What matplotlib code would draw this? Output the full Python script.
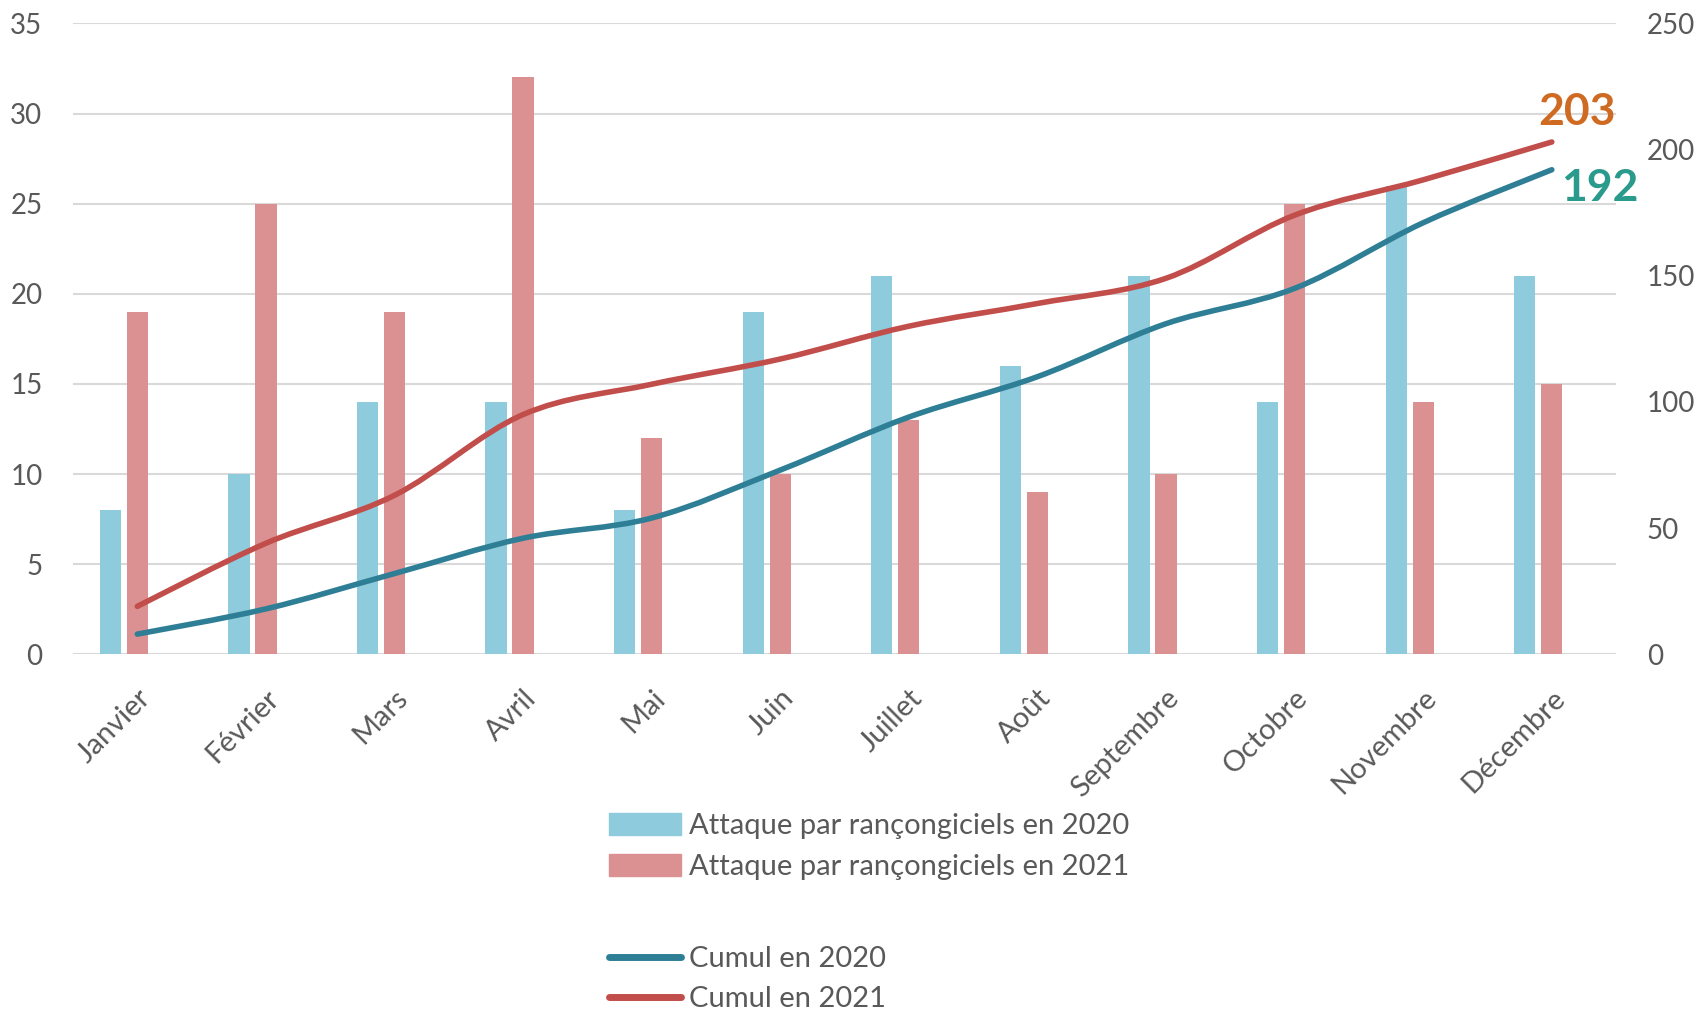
import matplotlib
matplotlib.use("Agg")
import matplotlib.pyplot as plt
from matplotlib.path import Path
from matplotlib.patches import PathPatch, Patch
from matplotlib.lines import Line2D
import numpy as np

mois = ['Janvier', 'Février', 'Mars', 'Avril', 'Mai', 'Juin', 'Juillet',
        'Août', 'Septembre', 'Octobre', 'Novembre', 'Décembre']
attaques_2020 = [8, 10, 14, 14, 8, 19, 21, 16, 21, 14, 26, 21]
attaques_2021 = [19, 25, 19, 32, 12, 10, 13, 9, 10, 25, 14, 15]
cumul_2020 = [8, 18, 32, 46, 54, 73, 94, 110, 131, 145, 171, 192]
cumul_2021 = [19, 44, 63, 95, 107, 117, 130, 139, 149, 174, 188, 203]

bleu_barre = '#8ecbdd'
rouge_barre = '#db9191'
bleu_ligne = '#2e7f96'
rouge_ligne = '#c24e4b'
gris = '#595959'

plt.rcParams['font.family'] = ['Lato', 'DejaVu Sans']


def courbe_lisse(xs, ys):
    # courbe de Bezier passant par les points (comme le lissage d'Excel)
    pts = np.column_stack([xs, ys]).astype(float)
    n = len(pts)
    verts = [pts[0]]
    codes = [Path.MOVETO]
    for i in range(n - 1):
        p0 = pts[i - 1] if i > 0 else pts[i]
        p1 = pts[i]
        p2 = pts[i + 1]
        p3 = pts[i + 2] if i + 2 < n else pts[i + 1]
        c1 = p1 + (p2 - p0) / 6
        c2 = p2 - (p3 - p1) / 6
        verts += [c1, c2, p2]
        codes += [Path.CURVE4] * 3
    return Path(verts, codes)


fig = plt.figure(figsize=(17.06, 10.16), dpi=100)
ax = fig.add_axes([0.0428, 0.356, 0.9045, 0.621])
ax2 = ax.twinx()

x = np.arange(len(mois))
largeur = 0.165
ax.bar(x - 0.21, attaques_2020, largeur, color=bleu_barre, zorder=2)
ax.bar(x, attaques_2021, largeur, color=rouge_barre, zorder=2)

ax.set_xlim(-0.5, 11.5)
ax.set_ylim(0, 35)
ax.set_yticks(range(0, 36, 5))
ax.grid(axis='y', color='#d9d9d9', linewidth=1.5, zorder=0)
ax.set_axisbelow(True)

ax2.set_ylim(0, 250)
ax2.set_yticks(range(0, 251, 50))

for a in (ax, ax2):
    for s in a.spines.values():
        s.set_visible(False)
    a.tick_params(length=0, labelsize=20, labelcolor=gris)
ax.tick_params(axis='y', pad=22)
ax2.tick_params(axis='y', pad=22)

ax.set_xticks(x)
ax.set_xticklabels(mois, rotation=45, ha='right', rotation_mode='anchor',
                   fontsize=21, color=gris)
ax.tick_params(axis='x', pad=22)

ax2.add_patch(PathPatch(courbe_lisse(x, cumul_2020), fill=False,
                        edgecolor=bleu_ligne, linewidth=4, capstyle='round', zorder=3))
ax2.add_patch(PathPatch(courbe_lisse(x, cumul_2021), fill=False,
                        edgecolor=rouge_ligne, linewidth=4, capstyle='round', zorder=3))

ax2.annotate(str(cumul_2021[-1]), (x[-1], cumul_2021[-1]), xytext=(-10, 7),
             textcoords='offset points', fontsize=32, fontweight='bold',
             color='#cf6a22', ha='left', va='bottom')
ax2.annotate(str(cumul_2020[-1]), (x[-1], cumul_2020[-1]), xytext=(7, -13),
             textcoords='offset points', fontsize=32, fontweight='bold',
             color='#2a9a8c', ha='left', va='center')

barres = [Patch(color=bleu_barre, label='Attaque par rançongiciels en 2020'),
          Patch(color=rouge_barre, label='Attaque par rançongiciels en 2021')]
lignes = [Line2D([], [], color=bleu_ligne, lw=5, solid_capstyle='round', label='Cumul en 2020'),
          Line2D([], [], color=rouge_ligne, lw=5, solid_capstyle='round', label='Cumul en 2021')]

leg1 = fig.legend(handles=barres, loc='upper left', bbox_to_anchor=(0.357, 0.200),
                  frameon=False, fontsize=21, labelcolor=gris, handlelength=2.45,
                  handleheight=0.8, handletextpad=0.3, labelspacing=0.5, borderaxespad=0,
                  borderpad=0)
leg2 = fig.legend(handles=lignes, loc='upper left', bbox_to_anchor=(0.357, 0.069),
                  frameon=False, fontsize=21, labelcolor=gris, handlelength=2.45,
                  handletextpad=0.3, labelspacing=0.5, borderaxespad=0, borderpad=0)

fig.savefig('out.png', dpi=100)
